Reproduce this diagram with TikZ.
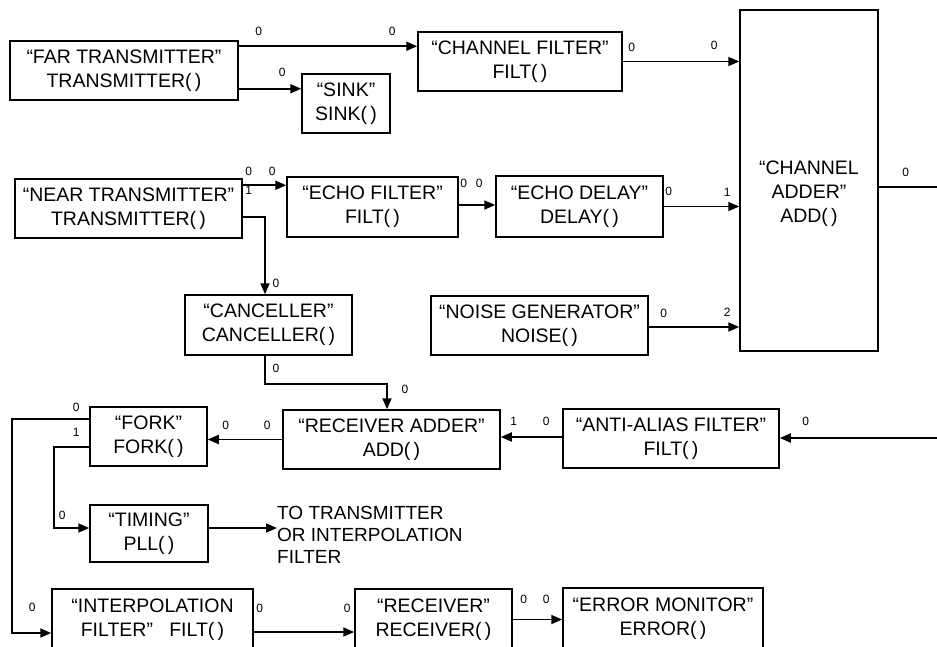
\documentclass[tikz,border=0pt]{standalone}
\usepackage{fontspec}
\setmainfont{Liberation Sans}
\usetikzlibrary{arrows.meta,positioning}
\tikzset{
  >={Triangle[length=11pt,width=9pt]},
  blk/.style={draw=black,line width=1.5pt,fill=white,align=center,inner sep=0pt,font=\fontsize{19.5}{24}\selectfont},
  txt/.style={align=center,inner sep=0pt,font=\fontsize{19.5}{24}\selectfont},
  flow/.style={->,line width=1.8pt,draw=black},
  wire/.style={line width=1.8pt,draw=black},
  port/.style={font=\fontsize{12}{13}\selectfont,inner sep=0pt}
}
\begin{document}
\begin{tikzpicture}[x=1pt,y=-1pt]
    \useasboundingbox (0,0) rectangle (937,646);
    \clip (0,0) rectangle (937,646);
    \node[blk,minimum width=228pt,minimum height=59pt] (far) at (124,70.5) {“FAR TRANSMITTER”\\TRANSMITTER(\,)};
    \node[blk,minimum width=88pt,minimum height=59pt] (sink) at (346,103.5) {“SINK”\\SINK(\,)};
    \node[blk,minimum width=204pt,minimum height=59pt] (chfilt) at (520,61.5) {“CHANNEL FILTER”\\FILT(\,)};
    \node[blk,minimum width=138pt,minimum height=341pt] (chadd) at (809,180.5) {};
    \node[txt,below=151pt of chadd.north] (chaddlbl) {“CHANNEL\\ADDER”\\ADD(\,)};
    \node[blk,minimum width=227pt,minimum height=59pt] (near) at (128.5,208.5) {“NEAR TRANSMITTER”\\TRANSMITTER(\,)};
    \node[blk,minimum width=171pt,minimum height=60pt] (echofilt) at (372.5,207) {“ECHO FILTER”\\FILT(\,)};
    \node[blk,minimum width=167pt,minimum height=61pt] (echodly) at (579.5,206.5) {“ECHO DELAY”\\DELAY(\,)};
    \node[blk,minimum width=167pt,minimum height=60pt] (cancel) at (268.5,325) {“CANCELLER”\\CANCELLER(\,)};
    \node[blk,minimum width=217pt,minimum height=59pt] (noise) at (539.5,325.5) {“NOISE GENERATOR”\\NOISE(\,)};
    \node[blk,minimum width=217pt,minimum height=59pt] (radd) at (391.5,439.5) {“RECEIVER ADDER”\\ADD(\,)};
    \node[blk,minimum width=216pt,minimum height=59pt] (antialias) at (671,438.5) {“ANTI-ALIAS FILTER”\\FILT(\,)};
    \node[blk,minimum width=117pt,minimum height=59pt] (fork) at (148.5,436.5) {“FORK”\\FORK(\,)};
    \node[blk,minimum width=118pt,minimum height=57pt] (timing) at (149,533.5) {“TIMING”\\PLL(\,)};
    \node[txt,align=left,anchor=west,font=\fontsize{19}{22}\selectfont] (dest) at (277,535) {TO TRANSMITTER\\OR INTERPOLATION\\FILTER};
    \node[blk,minimum width=201pt,minimum height=61pt] (interp) at (152.5,619.5) {“INTERPOLATION\\FILTER”\ \ \ FILT(\,)};
    \node[blk,minimum width=157pt,minimum height=61pt] (recv) at (433.5,619.5) {“RECEIVER”\\RECEIVER(\,)};
    \node[blk,minimum width=200pt,minimum height=62pt] (errmon) at (663,619) {“ERROR MONITOR”\\ERROR(\,)};
    \coordinate (chout) at (937,187);
    \coordinate (ain) at (937,438);
    \draw[flow] ([yshift=-6pt]far.north east) coordinate (f0) -- node[port,pos=0,xshift=20pt,yshift=15pt]{0} node[port,pos=1,xshift=-25pt,yshift=15pt]{0} (f0 -| chfilt.west);
    \draw[flow] ([yshift=12pt]far.south east) coordinate (f1) -- node[port,pos=1,xshift=-19pt,yshift=16pt]{0} (f1 -| sink.west);
    \draw[flow] (chfilt.east) -- node[port,pos=0,xshift=9pt,yshift=14pt]{0} node[port,pos=1,xshift=-25pt,yshift=16pt]{0} (chfilt.east -| chadd.west);
    \draw[wire] (chout -| chadd.east) -- node[port,pos=0,xshift=27pt,yshift=15pt]{0} (chout);
    \draw[flow] ([yshift=-7pt]near.north east) coordinate (n0) -- node[port,pos=0,xshift=6pt,yshift=14pt]{0} node[port,pos=1,xshift=-14pt,yshift=14pt]{0} (n0 -| echofilt.west);
    \draw[flow] ([yshift=-39pt]near.north east) -| node[port,pos=0,xshift=6pt,yshift=27pt]{1} node[port,pos=1,xshift=11pt,yshift=11pt]{0} ([xshift=-3.5pt]cancel.north);
    \draw[flow] ([yshift=2pt]echofilt.east) coordinate (e0) -- node[port,pos=0,xshift=5pt,yshift=22pt]{0} node[port,pos=1,xshift=-16pt,yshift=22pt]{0} (e0 -| echodly.west);
    \draw[flow] (echodly.east) -- node[port,pos=0,xshift=5pt,yshift=15pt]{0} node[port,pos=1,xshift=-12pt,yshift=14pt]{1} (echodly.east -| chadd.west);
    \draw[flow] ([yshift=-1.5pt]noise.east) coordinate (g0) -- node[port,pos=0,xshift=15pt,yshift=14pt]{0} node[port,pos=1,xshift=-12pt,yshift=15pt]{2} (g0 -| chadd.west);
    \draw[flow] ([xshift=-3.5pt]cancel.south) -- node[port,pos=0,xshift=11pt,yshift=-13pt]{0} ++(0,28) -| node[port,pos=1,xshift=18pt,yshift=20pt]{0} ([xshift=-4.5pt]radd.north);
    \draw[flow] ([yshift=1.5pt]antialias.west) coordinate (a0) -- node[port,pos=0,xshift=-16pt,yshift=16pt]{0} node[port,pos=1,xshift=13pt,yshift=16pt]{1} (a0 -| radd.east);
    \draw[flow] (ain) -- node[port,pos=1,xshift=26pt,yshift=17pt]{0} (ain -| antialias.east);
    \draw[flow] (radd.west) -- node[port,pos=0,xshift=-15pt,yshift=14pt]{0} node[port,pos=1,xshift=18pt,yshift=14pt]{0} (radd.west -| fork.east);
    \draw[flow] ([yshift=-13pt]fork.north west) -- node[port,pos=0,xshift=-13pt,yshift=12pt]{0} ++(-77pt,0) |- node[port,pos=1,xshift=-19pt,yshift=26pt]{0} ([yshift=-13.5pt]interp.west);
    \draw[flow] ([yshift=-41pt]fork.north west) -- node[port,pos=0,xshift=-13pt,yshift=15pt]{1} ++(-35pt,0) |- node[port,pos=1,xshift=-27pt,yshift=13pt]{0} ([yshift=5.5pt]timing.west);
    \draw[flow] ([yshift=5.5pt]timing.east) coordinate (t0) -- (t0 -| dest.west);
    \draw[flow] ([yshift=-12.5pt]interp.east) coordinate (i0) -- node[port,pos=0,xshift=6pt,yshift=24pt]{0} node[port,pos=1,xshift=-7pt,yshift=24pt]{0} (i0 -| recv.west);
    \draw[flow] (recv.east) -- node[port,pos=0,xshift=11pt,yshift=20pt]{0} node[port,pos=1,xshift=-16pt,yshift=20pt]{0} (recv.east -| errmon.west);
  \end{tikzpicture}
\end{document}
